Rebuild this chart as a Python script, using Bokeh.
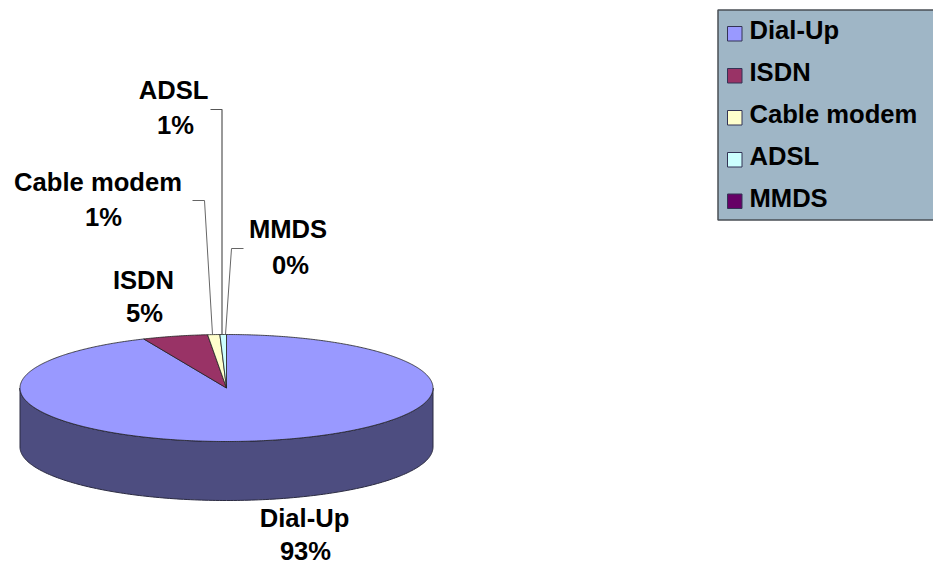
import numpy as np
from bokeh.embed import file_html
from bokeh.models import ColumnDataSource
from bokeh.plotting import figure
from bokeh.resources import INLINE
from bokeh.core.properties import value

# Share of internet connections by access type (percent)
categories = ["Dial-Up", "ISDN", "Cable modem", "ADSL", "MMDS"]
shares = [93.44, 5.10, 0.95, 0.51, 0.0]
colors = ["#9999FF", "#993366", "#FFFFCC", "#CCFFFF", "#660066"]
side_color = "#4D4D80"

FONT = value("Liberation Sans")
FONT_SIZE = "25.6px"
W, H = 933, 565

# Ellipse geometry of the tilted pie, in page pixels
CX, CY, RX, RY, DEPTH = 226, 387.5, 206.5, 53.5, 59


def rim(theta_deg):
    t = np.radians(theta_deg)
    return CX + RX * np.sin(t), CY - RY * np.cos(t)


p = figure(width=W, height=H, x_range=(0, W), y_range=(H, 0),
           output_backend="svg", toolbar_location=None,
           min_border=0, outline_line_color=None, background_fill_color="white")
p.axis.visible = False
p.grid.visible = False

# Front wall of the disc
arc = np.linspace(90, 270, 181)
ax, ay = rim(arc)
p.patch(np.r_[ax, ax[::-1]], np.r_[ay, ay[::-1] + DEPTH],
        fill_color=side_color, line_color="#2a2a40", line_width=1)

# Top face: slices run clockwise from twelve o'clock
start = 0.0
for share, color in zip(shares, colors):
    sweep = share * 3.6
    if sweep > 0:
        th = np.linspace(start, start + sweep, max(int(sweep * 2), 2) + 1)
        x, y = rim(th)
        p.patch(np.r_[CX, x], np.r_[CY, y], fill_color=color,
                line_color="#222222", line_width=0.8)
    start += sweep

# Leader lines from the outer labels to their slices
leaders = [
    ([210, 221.5, 221.5], [109, 109, 334], "#555555", 1.2),
    ([192, 204, 212], [200, 200, 334], "#666666", 1),
    ([243, 231, 225], [248, 248, 334], "#666666", 1),
]
for lx, ly, lc, lw in leaders:
    p.line(lx, ly, line_color=lc, line_width=lw)

# Slice labels: name on the first line, rounded share on the second
label_pos = {
    "Dial-Up": ((304, 517.5), (305, 550)),
    "ISDN": ((143, 279), (144, 312)),
    "Cable modem": ((97.5, 181), (103, 216)),
    "ADSL": ((173, 89), (175, 124)),
    "MMDS": ((287.5, 228), (290, 264)),
}
lab_x, lab_y, lab_t = [], [], []
for name, share in zip(categories, shares):
    (x1, y1), (x2, y2) = label_pos[name]
    lab_x += [x1, x2]
    lab_y += [y1, y2]
    lab_t += [name, f"{share:.0f}%"]
p.text(x=lab_x, y=lab_y, text=lab_t, text_font=FONT, text_font_style="bold",
       text_font_size=FONT_SIZE, text_color="black",
       text_align="center", text_baseline="middle")

# Legend panel
p.quad(left=[717.5], right=[940], top=[9.5], bottom=[219.5],
       fill_color="#9FB6C6", line_color="#4a4f55", line_width=1.5)
swatch_top = [26, 68, 110, 152, 193.5]
legend = ColumnDataSource(dict(
    left=[727] * 5, right=[741.5] * 5,
    top=swatch_top, bottom=[t + 14.5 for t in swatch_top],
    color=colors, name=categories,
    tx=[749] * 5, ty=[t + 3.5 for t in swatch_top],
))
p.quad(left="left", right="right", top="top", bottom="bottom", fill_color="color",
       line_color="#333355", line_width=1, source=legend)
p.text(x="tx", y="ty", text="name", source=legend, text_font=FONT,
       text_font_style="bold", text_font_size=FONT_SIZE, text_color="black",
       text_align="left", text_baseline="middle")

open("out.html", "w").write(file_html(p, INLINE))
